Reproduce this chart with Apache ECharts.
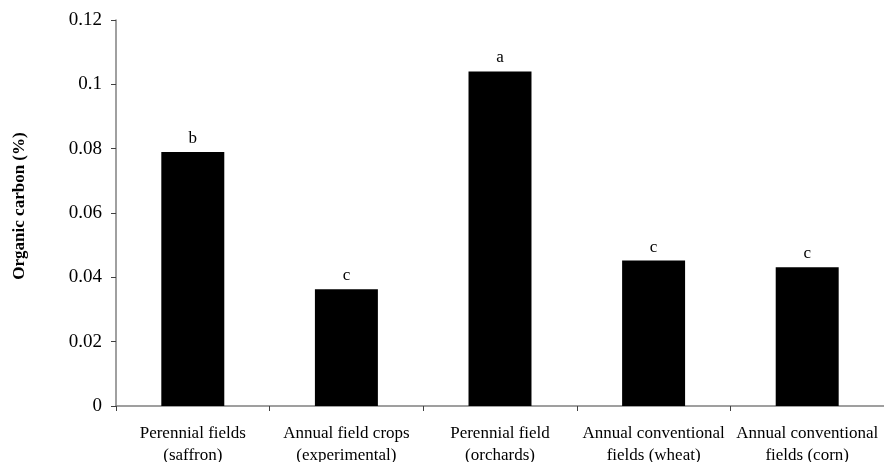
<!DOCTYPE html>
<html>
<head>
<meta charset="utf-8">
<script src="https://cdn.jsdelivr.net/npm/echarts@6/dist/echarts.min.js"></script>
<style>
html,body{margin:0;padding:0;background:#fff;}
#chart{width:884px;height:462px;}
</style>
</head>
<body>
<div id="chart"></div>
<script>
const categories = [
  "Perennial fields\n(saffron)",
  "Annual field crops\n(experimental)",
  "Perennial field\n(orchards)",
  "Annual conventional\nfields (wheat)",
  "Annual conventional\nfields (corn)"
];
const organicCarbon = [0.079, 0.0363, 0.104, 0.0452, 0.0431];
const groupLetters = ["b", "c", "a", "c", "c"];
const yMin = 0, yMax = 0.12, yStep = 0.02;
const yAxisTitle = "Organic carbon (%)";

const FONT = "Liberation Serif";
const chart = echarts.init(document.getElementById('chart'));
chart.setOption({
  animation: false,
  backgroundColor: '#ffffff',
  grid: { left: 116, right: 0, top: 20, bottom: 56, containLabel: false, outerBoundsMode: 'none' },
  xAxis: {
    type: 'category',
    data: categories,
    axisLine: { lineStyle: { color: '#808080', width: 1.5 } },
    axisTick: { show: true, alignWithLabel: false, length: 5, lineStyle: { color: '#404040' } },
    axisLabel: { color: '#000', fontFamily: FONT, fontSize: 17, lineHeight: 22, margin: 17, interval: 0 }
  },
  yAxis: {
    type: 'value',
    min: yMin, max: yMax, interval: yStep,
    name: yAxisTitle,
    nameLocation: 'middle',
    nameGap: 88,
    nameTextStyle: { color: '#000', fontFamily: FONT, fontSize: 17, fontWeight: 'bold', padding: [0, 0, 0, 14] },
    splitLine: { show: false },
    axisLine: { show: true, lineStyle: { color: '#808080', width: 1.5 } },
    axisTick: { show: true, length: 5, lineStyle: { color: '#404040' } },
    axisLabel: { color: '#000', fontFamily: FONT, fontSize: 19, margin: 14 }
  },
  series: [{
    type: 'bar',
    data: organicCarbon,
    barWidth: '41%',
    itemStyle: { color: '#000' },
    label: {
      show: true,
      position: 'top',
      distance: 5,
      color: '#000',
      fontFamily: FONT,
      fontSize: 17,
      formatter: p => groupLetters[p.dataIndex]
    }
  }]
});
</script>
</body>
</html>
